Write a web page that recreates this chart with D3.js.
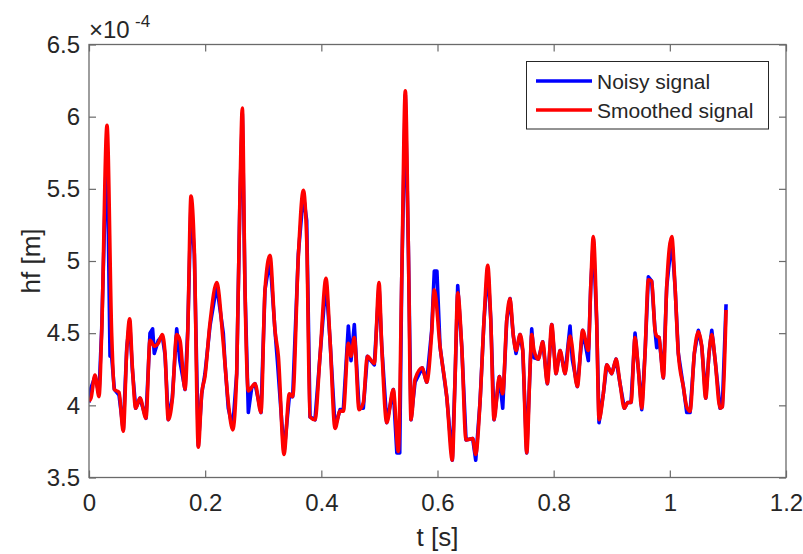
<!DOCTYPE html>
<html>
<head>
<meta charset="utf-8">
<script src="https://cdn.jsdelivr.net/npm/d3@7"></script>
<style>
  html, body { margin: 0; padding: 0; background: #fff; }
  svg { display: block; font-family: "Liberation Sans", Arial, Helvetica, sans-serif; }
</style>
</head>
<body>
<svg id="chart" width="803" height="554"></svg>
<script>
// ---- data (hf in units of 1e-4 m, t in s) ----
const smoothT = [0.000,0.0034,0.0103,0.0172,0.0218,0.031,0.039,0.0436,0.0517,0.059,0.065,0.070,0.0746,0.0804,0.0878,0.0981,0.105,0.1124,0.1193,0.1262,0.1309,0.1365,0.1434,0.151,0.1567,0.1653,0.170,0.1756,0.1813,0.1882,0.194,0.1997,0.2083,0.2199,0.2312,0.2398,0.2474,0.2543,0.26,0.264,0.2686,0.2743,0.2858,0.2961,0.303,0.3116,0.3202,0.326,0.3357,0.3449,0.3507,0.3604,0.369,0.3748,0.3805,0.3891,0.3977,0.408,0.415,0.4236,0.4322,0.4379,0.4465,0.4511,0.4568,0.4649,0.4723,0.4792,0.4912,0.4993,0.504,0.5126,0.5239,0.5325,0.5384,0.5446,0.5498,0.5544,0.5613,0.5739,0.5814,0.590,0.5945,0.6043,0.6159,0.6255,0.6302,0.6348,0.6417,0.6491,0.6606,0.6658,0.6732,0.6801,0.6865,0.6917,0.6973,0.7065,0.7123,0.7192,0.7249,0.7306,0.7352,0.7421,0.7468,0.7536,0.7593,0.7622,0.7662,0.7736,0.7812,0.7891,0.7967,0.8041,0.811,0.8196,0.8282,0.8407,0.85,0.8597,0.8638,0.8683,0.874,0.8781,0.8855,0.8914,0.9,0.9074,0.9143,0.9217,0.9275,0.9332,0.9401,0.9458,0.9516,0.9573,0.963,0.9688,0.9745,0.9774,0.9814,0.9888,0.9946,1.0033,1.009,1.0146,1.0232,1.0291,1.0348,1.0422,1.0491,1.0549,1.0618,1.0675,1.0722,1.0778,1.0865,1.0904,1.0968];
const smoothV = [4.03,4.05,4.21,4.06,4.50,5.94,4.50,4.11,4.09,3.82,4.38,4.60,4.27,3.98,4.05,3.91,4.45,4.41,4.43,4.49,4.36,3.90,4.04,4.49,4.45,4.11,4.50,5.45,5.08,3.71,4.08,4.20,4.57,4.85,4.43,4.02,3.83,4.22,5.49,6.06,4.80,4.10,4.15,3.95,4.80,5.04,4.52,4.34,3.66,4.08,4.06,5.03,5.49,5.15,3.92,3.90,4.34,4.88,4.45,3.84,3.96,3.96,4.43,4.34,4.47,3.97,4.02,4.34,4.29,4.85,4.41,3.88,4.11,3.68,4.87,6.18,5.10,3.90,4.18,4.26,4.16,4.50,4.80,4.41,4.06,3.62,4.18,4.78,4.41,3.76,3.77,3.66,4.02,4.59,4.97,4.59,3.90,4.20,4.08,4.59,4.74,4.48,4.38,4.49,4.38,3.67,4.25,4.49,4.38,4.32,4.44,4.15,4.56,4.22,4.38,4.22,4.48,4.13,4.52,4.38,4.82,5.17,4.59,3.90,4.08,4.28,4.22,4.32,4.15,3.98,4.02,4.02,4.47,4.25,3.98,4.36,4.87,4.86,4.52,4.48,4.47,4.19,4.82,5.17,4.82,4.36,4.13,3.99,3.96,4.36,4.51,4.41,4.05,4.36,4.49,4.32,3.98,3.99,4.66];

const noisyT = [0.000,0.0034,0.0103,0.0172,0.0218,0.031,0.0362,0.039,0.0436,0.0517,0.059,0.065,0.070,0.0746,0.0804,0.0878,0.0981,0.105,0.1095,0.1124,0.1193,0.1262,0.1309,0.1365,0.1434,0.151,0.1567,0.1653,0.170,0.1756,0.1813,0.1882,0.194,0.1997,0.2083,0.2199,0.2312,0.234,0.2398,0.2474,0.2543,0.26,0.264,0.2686,0.2743,0.2800,0.2858,0.2961,0.303,0.3116,0.3202,0.3245,0.3357,0.3449,0.3507,0.3604,0.369,0.3748,0.3805,0.3891,0.3977,0.408,0.415,0.4236,0.4322,0.4379,0.4465,0.4511,0.4568,0.4649,0.4723,0.4792,0.4912,0.4993,0.504,0.5126,0.5239,0.5300,0.5350,0.5384,0.5446,0.5498,0.5544,0.5613,0.5739,0.5814,0.590,0.5945,0.5990,0.6043,0.6159,0.6255,0.6302,0.6348,0.6417,0.6491,0.6606,0.6658,0.6732,0.6801,0.6865,0.6917,0.6973,0.7065,0.7123,0.7192,0.7249,0.7306,0.7352,0.7421,0.7468,0.7536,0.7593,0.7622,0.7662,0.7736,0.7812,0.7891,0.7967,0.8041,0.811,0.8196,0.8282,0.8320,0.8407,0.85,0.8597,0.8638,0.8683,0.874,0.8781,0.8855,0.8914,0.9,0.9074,0.9143,0.9217,0.9275,0.9332,0.9401,0.9458,0.9516,0.9573,0.963,0.9688,0.9745,0.9774,0.9814,0.9888,0.9946,1.0033,1.009,1.0146,1.0232,1.0291,1.0348,1.0422,1.0491,1.0549,1.0618,1.0675,1.0722,1.0778,1.0865,1.0904,1.0968];
const noisyV = [4.02,4.12,4.20,4.08,4.52,5.90,4.34,4.34,4.11,4.07,3.83,4.40,4.58,4.25,3.98,4.05,3.91,4.50,4.53,4.36,4.45,4.48,4.35,3.90,4.05,4.53,4.30,4.11,4.52,5.40,5.05,3.72,4.08,4.22,4.55,4.83,4.50,4.30,3.98,3.84,4.22,5.45,6.02,4.80,3.95,4.12,4.15,3.95,4.80,5.02,4.52,4.30,3.67,4.06,4.06,5.05,5.46,5.28,3.92,3.90,4.34,4.86,4.45,3.85,3.97,3.97,4.55,4.31,4.56,3.98,3.98,4.34,4.28,4.83,4.41,3.88,4.11,3.67,3.67,4.87,6.15,5.10,3.90,4.16,4.26,4.16,4.52,4.93,4.93,4.41,4.06,3.62,4.18,4.83,4.41,3.76,3.77,3.62,4.02,4.59,4.95,4.60,3.90,4.20,3.98,4.59,4.74,4.48,4.36,4.49,4.38,3.67,4.25,4.53,4.33,4.32,4.44,4.15,4.56,4.22,4.38,4.22,4.55,4.32,4.13,4.52,4.31,4.82,5.15,4.59,3.88,4.08,4.28,4.22,4.32,4.15,3.98,4.02,4.02,4.50,4.25,3.97,4.36,4.89,4.86,4.52,4.40,4.47,4.19,4.82,5.15,4.82,4.36,4.13,3.95,3.95,4.36,4.52,4.41,4.05,4.36,4.52,4.32,3.98,3.99,4.70];

const xTicks = [0, 0.2, 0.4, 0.6, 0.8, 1, 1.2];
const yTicks = [3.5, 4, 4.5, 5, 5.5, 6, 6.5];
const seriesNames = ["Noisy signal", "Smoothed signal"];
const seriesColors = ["#0000ff", "#ff0000"];

// ---- layout ----
const svg = d3.select("#chart");
const L = 89, R = 786, T = 44.5, B = 477.5;
const x = d3.scaleLinear().domain([0, 1.2]).range([L, R]);
const y = d3.scaleLinear().domain([3.5, 6.5]).range([B, T]);
const textColor = "#262626", axisColor = "#6a6a6a";

const clip = svg.append("defs").append("clipPath").attr("id", "clip")
  .append("rect").attr("x", L).attr("y", T).attr("width", R - L).attr("height", B - T);

// lines
const noisy = noisyT.map((t, i) => [t, noisyV[i]]);
const smooth = smoothT.map((t, i) => [t, smoothV[i]]);
const lineLin = d3.line().x(d => x(d[0])).y(d => y(d[1]));
const lineSm = d3.line().x(d => x(d[0])).y(d => y(d[1])).curve(d3.curveMonotoneX);

const g = svg.append("g").attr("clip-path", "url(#clip)");
g.append("path").datum(noisy).attr("d", lineLin)
  .attr("fill", "none").attr("stroke", seriesColors[0]).attr("stroke-width", 3.6)
  .attr("stroke-linejoin", "round");
g.append("path").datum(smooth).attr("d", lineSm)
  .attr("fill", "none").attr("stroke", seriesColors[1]).attr("stroke-width", 3.6)
  .attr("stroke-linejoin", "round");

// axes
function styleAxis(sel) {
  sel.select(".domain").remove();
  sel.selectAll(".tick line").attr("stroke", axisColor).attr("stroke-width", 1.2);
  sel.selectAll(".tick text").attr("fill", textColor).style("font-size", "24px")
    .style("font-family", '"Liberation Sans", Arial, Helvetica, sans-serif');
}
svg.append("g").attr("transform", `translate(0,${B})`)
  .call(d3.axisBottom(x).tickValues(xTicks).tickSize(-7).tickPadding(16).tickFormat(d3.format("~g")))
  .call(styleAxis);
svg.append("g").attr("transform", `translate(0,${T})`)
  .call(d3.axisTop(x).tickValues(xTicks).tickSize(-7).tickFormat(() => ""))
  .call(styleAxis);
svg.append("g").attr("transform", `translate(${L},0)`)
  .call(d3.axisLeft(y).tickValues(yTicks).tickSize(-7).tickPadding(9).tickFormat(d3.format("~g")))
  .call(styleAxis);
svg.append("g").attr("transform", `translate(${R},0)`)
  .call(d3.axisRight(y).tickValues(yTicks).tickSize(-7).tickFormat(() => ""))
  .call(styleAxis);

svg.append("rect").attr("x", L).attr("y", T).attr("width", R - L).attr("height", B - T)
  .attr("fill", "none").attr("stroke", axisColor).attr("stroke-width", 1.3);

// exponent
svg.append("text").attr("x", L).attr("y", 38).attr("fill", textColor)
  .style("font-size", "24px").text("×10");
svg.append("text").attr("x", L + 46).attr("y", 27).attr("fill", textColor)
  .style("font-size", "17px").text("-4");

// axis labels
svg.append("text").attr("x", (L + R) / 2).attr("y", 546).attr("text-anchor", "middle")
  .attr("fill", textColor).style("font-size", "26px").text("t [s]");
svg.append("text").attr("transform", `translate(40,${(T + B) / 2}) rotate(-90)`)
  .attr("text-anchor", "middle").attr("fill", textColor).style("font-size", "26px").text("hf [m]");

// legend
const lg = svg.append("g");
lg.append("rect").attr("x", 526.5).attr("y", 61.5).attr("width", 242).attr("height", 67.5)
  .attr("fill", "#fff").attr("stroke", textColor).attr("stroke-width", 1);
seriesNames.forEach((name, i) => {
  const cy = 81 + i * 29;
  lg.append("line").attr("x1", 536).attr("x2", 592).attr("y1", cy).attr("y2", cy)
    .attr("stroke", seriesColors[i]).attr("stroke-width", 3.6);
  lg.append("text").attr("x", 597).attr("y", cy + 7.5).attr("fill", textColor)
    .style("font-size", "21px").text(name);
});
</script>
</body>
</html>
